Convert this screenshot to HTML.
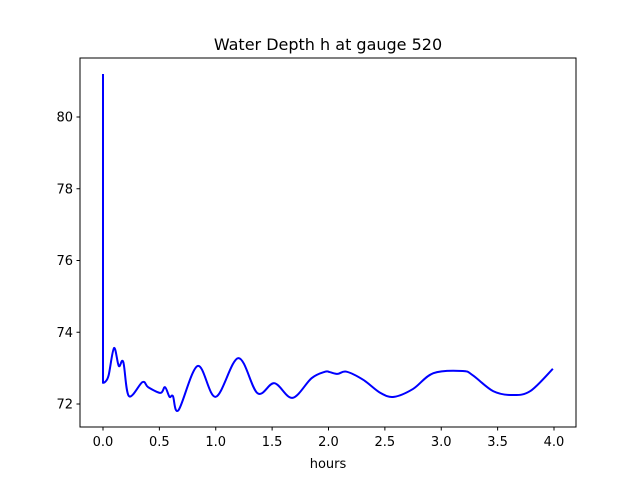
<!DOCTYPE html>
<html><head><meta charset="utf-8"><style>
body{margin:0;background:#fff}
text{font-family:"DejaVu Sans","Liberation Sans",sans-serif;fill:#000}
</style></head><body>
<svg id="chart" width="640" height="480" viewBox="0 0 640 480">
<rect width="640" height="480" fill="#fff"/>
<text x="328" y="50" font-size="16" text-anchor="middle">Water Depth h at gauge 520</text>
<g id="xt"></g>
<g id="yt"></g>
<path id="line" fill="none" stroke="#0000ff" stroke-width="2" stroke-linejoin="round"/>
<rect x="80" y="58" width="496" height="369" fill="none" stroke="#000" stroke-width="1"/>
<text x="328" y="468" font-size="13" text-anchor="middle">hours</text>
</svg>
<script>
const hours=[0,0.0,0.02,0.05,0.098,0.14,0.18,0.23,0.35,0.40,0.51,0.55,0.59,0.62,0.67,0.84,1.0,1.2,1.37,1.52,1.68,1.85,1.97,2.01,2.08,2.16,2.31,2.46,2.58,2.75,2.93,3.19,3.28,3.46,3.63,3.79,3.99];
const depth=[81.2,72.59,72.62,72.8,73.56,73.06,73.17,72.22,72.61,72.47,72.31,72.47,72.2,72.22,71.83,73.06,72.2,73.28,72.3,72.58,72.17,72.72,72.9,72.89,72.84,72.9,72.67,72.31,72.2,72.42,72.86,72.92,72.8,72.36,72.25,72.36,72.98];
const xTicks=[0,0.5,1,1.5,2,2.5,3,3.5,4];
const xLabels=["0.0","0.5","1.0","1.5","2.0","2.5","3.0","3.5","4.0"];
const yTicks=[72,74,76,78,80];
const yLabels=["72","74","76","78","80"];
const sx=v=>103+v*112.75, sy=v=>404-(v-72)*35.875;
const NS="http://www.w3.org/2000/svg";
const xt=document.getElementById('xt'), yt=document.getElementById('yt');
xTicks.forEach((t,i)=>{
 const l=document.createElementNS(NS,'line');l.setAttribute('x1',sx(t));l.setAttribute('x2',sx(t));l.setAttribute('y1',427);l.setAttribute('y2',430.5);l.setAttribute('stroke','#000');
 
 
 xt.appendChild(l);
 const tx=document.createElementNS(NS,'text');tx.setAttribute('x',sx(t));tx.setAttribute('y',446);tx.setAttribute('font-size','13');tx.setAttribute('text-anchor','middle');tx.textContent=xLabels[i];
 
 
 xt.appendChild(tx);
});
yTicks.forEach((t,i)=>{
 const l=document.createElementNS(NS,'line');l.setAttribute('x1',76.5);l.setAttribute('x2',80);l.setAttribute('y1',sy(t));l.setAttribute('y2',sy(t));l.setAttribute('stroke','#000');
 
 
 yt.appendChild(l);
 const tx=document.createElementNS(NS,'text');tx.setAttribute('x',73);tx.setAttribute('y',sy(t)+4.5);tx.setAttribute('font-size','13');tx.setAttribute('text-anchor','end');tx.textContent=yLabels[i];
 
 
 yt.appendChild(tx);
});
const pts=hours.map((h,i)=>[sx(h),sy(depth[i])]);
let d='M'+pts[0][0]+','+pts[0][1]+' L'+pts[1][0]+','+pts[1][1];
for(let i=1;i<pts.length-1;i++){
 const p0=pts[Math.max(1,i-1)],p1=pts[i],p2=pts[i+1],p3=pts[Math.min(pts.length-1,i+2)];
 const c1=[p1[0]+(p2[0]-p0[0])/6,p1[1]+(p2[1]-p0[1])/6],c2=[p2[0]-(p3[0]-p1[0])/6,p2[1]-(p3[1]-p1[1])/6];
 d+=' C'+c1.join(',')+' '+c2.join(',')+' '+p2.join(',');
}
document.getElementById('line').setAttribute('d',d);
</script>
</body></html>
